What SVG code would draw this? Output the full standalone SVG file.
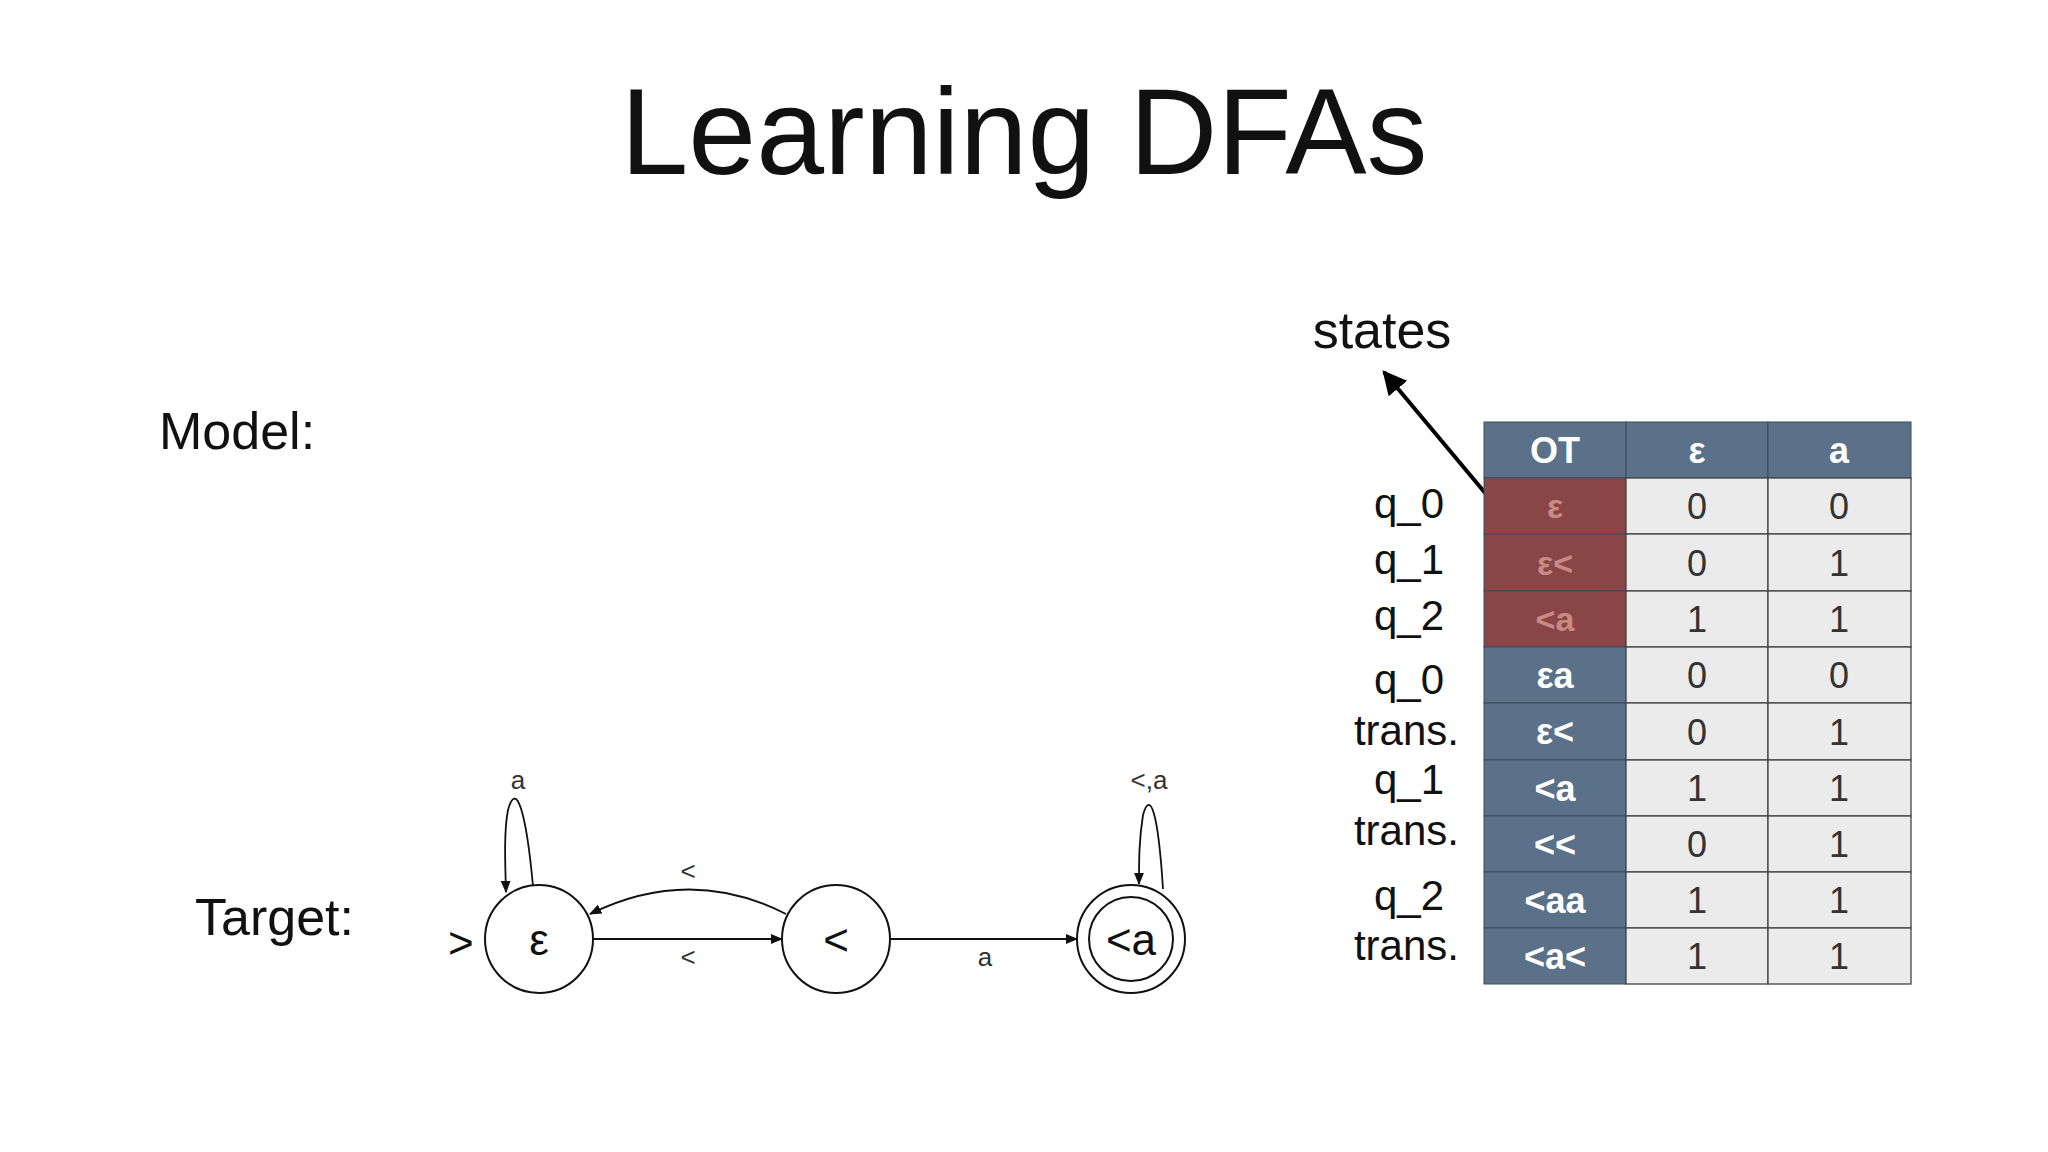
<svg xmlns="http://www.w3.org/2000/svg" width="2048" height="1152" viewBox="0 0 2048 1152">
<style>
text{font-family:"Liberation Sans",Arial,sans-serif;fill:#111}
.lab{font-size:42px;text-anchor:end}
.sm{font-size:26px;text-anchor:middle;fill:#333}
.hd{font-size:36px;font-weight:bold;fill:#fff;text-anchor:middle}
.rd{font-size:34px;font-weight:bold;fill:#c98a86;text-anchor:middle}
.num{font-size:36px;fill:#333;text-anchor:middle}
.blue{fill:#5a7189;stroke:#3a4a5a;stroke-width:1}
.red{fill:#8a4646;stroke:#3a4a5a;stroke-width:1}
.cell{fill:#ebebeb;stroke:#444;stroke-width:1.3}
.st{fill:#fff;stroke:#111;stroke-width:2}
.e{fill:none;stroke:#111;stroke-width:1.8}
</style>
<defs>
<marker id="ar" viewBox="0 0 10 10" refX="9" refY="5" markerWidth="7" markerHeight="7" orient="auto"><path d="M0,1 L10,5 L0,9 Z" fill="#111"/></marker>
<marker id="ab" viewBox="0 0 10 10" refX="9" refY="5" markerWidth="6" markerHeight="6" orient="auto"><path d="M0,0 L10,5 L0,10 Z" fill="#000"/></marker>
</defs>
<rect width="2048" height="1152" fill="#fff"/>
<text x="1024" y="174" font-size="122" text-anchor="middle">Learning DFAs</text>
<text x="159" y="449" font-size="52">Model:</text>
<text x="195" y="935" font-size="52">Target:</text>
<text x="1382" y="348" font-size="52" text-anchor="middle">states</text>
<line x1="1486" y1="494" x2="1384" y2="372" stroke="#000" stroke-width="4" marker-end="url(#ab)"/>
<g id="labels">
<text class="lab" x="1444" y="518">q_0</text>
<text class="lab" x="1444" y="574">q_1</text>
<text class="lab" x="1444" y="630">q_2</text>
<text class="lab" x="1444" y="694">q_0</text>
<text class="lab" x="1459" y="745">trans.</text>
<text class="lab" x="1444" y="794">q_1</text>
<text class="lab" x="1459" y="845">trans.</text>
<text class="lab" x="1444" y="910">q_2</text>
<text class="lab" x="1459" y="960">trans.</text>
</g>
<g id="table">
<rect class="blue" x="1484" y="422" width="142" height="56"/>
<rect class="blue" x="1626" y="422" width="142" height="56"/>
<rect class="blue" x="1768" y="422" width="143" height="56"/>
<text class="hd" x="1555" y="463">OT</text>
<text class="hd" x="1697" y="463">ε</text>
<text class="hd" x="1839" y="463">a</text>
<rect class="red" x="1484" y="478" width="142" height="56"/>
<rect class="red" x="1484" y="534" width="142" height="57"/>
<rect class="red" x="1484" y="591" width="142" height="56"/>
<text class="rd" x="1555" y="518">ε</text>
<text class="rd" x="1555" y="575">ε&lt;</text>
<text class="rd" x="1555" y="631">&lt;a</text>
<rect class="blue" x="1484" y="647" width="142" height="56"/>
<rect class="blue" x="1484" y="703" width="142" height="57"/>
<rect class="blue" x="1484" y="760" width="142" height="56"/>
<rect class="blue" x="1484" y="816" width="142" height="56"/>
<rect class="blue" x="1484" y="872" width="142" height="56"/>
<rect class="blue" x="1484" y="928" width="142" height="56"/>
<text class="hd" x="1555" y="688">εa</text>
<text class="hd" x="1555" y="744">ε&lt;</text>
<text class="hd" x="1555" y="801">&lt;a</text>
<text class="hd" x="1555" y="857">&lt;&lt;</text>
<text class="hd" x="1555" y="913">&lt;aa</text>
<text class="hd" x="1555" y="969">&lt;a&lt;</text>
<g>
<rect class="cell" x="1626" y="478" width="142" height="56"/><rect class="cell" x="1768" y="478" width="143" height="56"/>
<rect class="cell" x="1626" y="534" width="142" height="57"/><rect class="cell" x="1768" y="534" width="143" height="57"/>
<rect class="cell" x="1626" y="591" width="142" height="56"/><rect class="cell" x="1768" y="591" width="143" height="56"/>
<rect class="cell" x="1626" y="647" width="142" height="56"/><rect class="cell" x="1768" y="647" width="143" height="56"/>
<rect class="cell" x="1626" y="703" width="142" height="57"/><rect class="cell" x="1768" y="703" width="143" height="57"/>
<rect class="cell" x="1626" y="760" width="142" height="56"/><rect class="cell" x="1768" y="760" width="143" height="56"/>
<rect class="cell" x="1626" y="816" width="142" height="56"/><rect class="cell" x="1768" y="816" width="143" height="56"/>
<rect class="cell" x="1626" y="872" width="142" height="56"/><rect class="cell" x="1768" y="872" width="143" height="56"/>
<rect class="cell" x="1626" y="928" width="142" height="56"/><rect class="cell" x="1768" y="928" width="143" height="56"/>
</g>
<text class="num" x="1697" y="519">0</text><text class="num" x="1839" y="519">0</text>
<text class="num" x="1697" y="576">0</text><text class="num" x="1839" y="576">1</text>
<text class="num" x="1697" y="632">1</text><text class="num" x="1839" y="632">1</text>
<text class="num" x="1697" y="688">0</text><text class="num" x="1839" y="688">0</text>
<text class="num" x="1697" y="745">0</text><text class="num" x="1839" y="745">1</text>
<text class="num" x="1697" y="801">1</text><text class="num" x="1839" y="801">1</text>
<text class="num" x="1697" y="857">0</text><text class="num" x="1839" y="857">1</text>
<text class="num" x="1697" y="913">1</text><text class="num" x="1839" y="913">1</text>
<text class="num" x="1697" y="969">1</text><text class="num" x="1839" y="969">1</text>
</g>
<g id="connectors">
<path class="e" d="M594,939 L782,939" marker-end="url(#ar)"/>
<path class="e" d="M889,939 L1077,939" marker-end="url(#ar)"/>
<path class="e" d="M786,914 Q690,865 590,914" marker-end="url(#ar)"/>
<path class="e" d="M533,886 C526,810 516,780 508,810 C504,830 505,860 506,892" marker-end="url(#ar)"/>
<path class="e" d="M1163,889 C1158,810 1150,790 1143,815 C1139,840 1139,860 1139,884" marker-end="url(#ar)"/>
<text class="sm" x="688" y="880">&lt;</text>
<text class="sm" x="688" y="966">&lt;</text>
<text class="sm" x="985" y="966">a</text>
<text class="sm" x="518" y="789">a</text>
<text class="sm" x="1149" y="789">&lt;,a</text>
</g>
<text x="448" y="958" font-size="44">&gt;</text>
<g id="s0"><circle class="st" cx="539" cy="939" r="54"/><text x="539" y="955" font-size="44" text-anchor="middle">ε</text></g>
<g id="s1"><circle class="st" cx="836" cy="939" r="54"/><text x="836" y="955" font-size="44" text-anchor="middle">&lt;</text></g>
<g id="s2"><circle class="st" cx="1131" cy="939" r="54"/><circle class="st" cx="1131" cy="939" r="42"/><text x="1131" y="955" font-size="44" text-anchor="middle">&lt;a</text></g>
</svg>
